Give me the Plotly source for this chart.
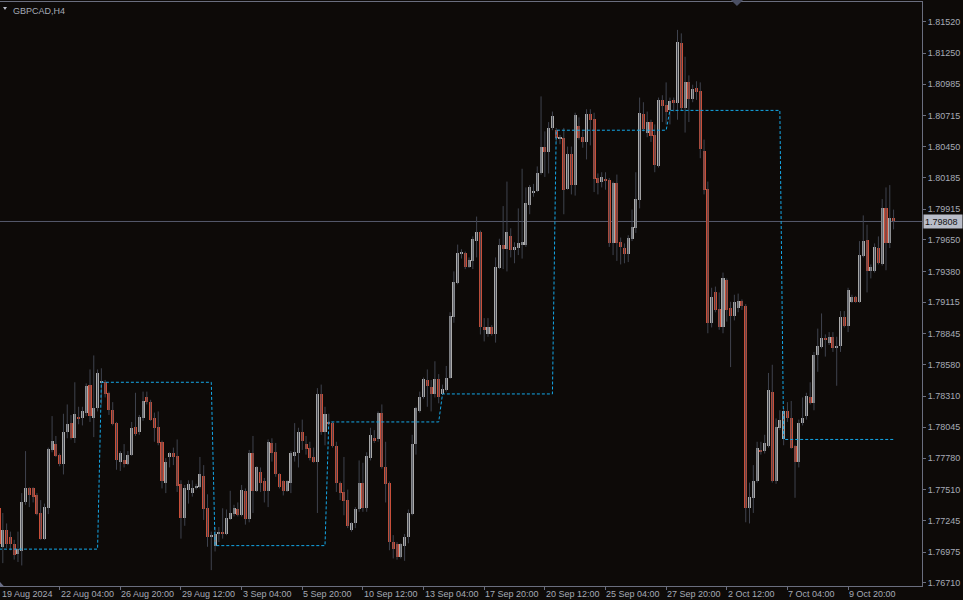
import plotly.graph_objects as go

# ---------------- data ----------------
symbol_title = "GBPCAD,H4"
bar_index = list(range(-1, 236))

open_ = [1.7735,1.7702,1.7716,1.7710,1.7704,1.7696,1.7698,1.7740,1.7752,1.7752,
1.7746,1.7731,1.7709,1.7735,1.7785,1.7790,1.7781,1.7773,1.7800,1.7808,
1.7795,1.7813,1.7812,1.7817,1.7841,1.7812,1.7821,1.7843,1.7843,1.7834,
1.7819,1.7808,1.7775,1.7776,1.7773,1.7781,1.7805,1.7800,1.7812,1.7830,
1.7826,1.7812,1.7805,1.7792,1.7757,1.7779,1.7782,1.7780,1.7756,1.7727,
1.7751,1.7748,1.7752,1.7753,1.7763,1.7735,1.7710,1.7703,1.7713,1.7714,
1.7713,1.7726,1.7730,1.7734,1.7729,1.7750,1.7726,1.7782,1.7750,1.7766,
1.7758,1.7750,1.7791,1.7783,1.7764,1.7758,1.7750,1.7757,1.7780,1.7782,
1.7800,1.7790,1.7787,1.7779,1.7775,1.7833,1.7800,1.7809,1.7808,1.7788,
1.7757,1.7749,1.7742,1.7716,1.7722,1.7734,1.7757,1.7735,1.7778,1.7795,
1.7794,1.7817,1.7770,1.7757,1.7706,1.7704,1.7693,1.7703,1.7710,1.7730,
1.7790,1.7818,1.7830,1.7845,1.7839,1.7833,1.7846,1.7833,1.7836,1.7847,
1.7899,1.7928,1.7953,1.7954,1.7942,1.7947,1.7964,1.7972,1.7890,1.7884,
1.7890,1.7884,1.7941,1.7961,1.7957,1.7968,1.7956,1.7958,1.7961,1.7961,
1.7995,1.8006,1.8007,1.8022,1.8045,1.8040,1.8061,1.8059,1.8052,1.8052,
1.8009,1.8039,1.8012,1.8063,1.8053,1.8049,1.8073,1.8069,1.8018,1.8015,
1.8017,1.8016,1.7962,1.8014,1.7963,1.7958,1.7953,1.7966,1.7975,1.7999,
1.8073,1.8057,1.8066,1.8055,1.8028,1.8085,1.8081,1.8076,1.8085,1.8082,
1.8134,1.8078,1.8100,1.8086,1.8095,1.8093,1.8041,1.8009,1.7894,1.7920,
1.7906,1.7890,1.7931,1.7907,1.7900,1.7907,1.7913,1.7908,1.7735,1.7744,
1.7758,1.7785,1.7784,1.7788,1.7835,1.7758,1.7804,1.7794,1.7818,1.7812,
1.7788,1.7775,1.7808,1.7814,1.7830,1.7825,1.7866,1.7873,1.7881,1.7877,
1.7882,1.7872,1.7874,1.7899,1.7891,1.7912,1.7916,1.7912,1.7951,1.7965,
1.7938,1.7938,1.7958,1.7944,1.7992,1.7962,1.7984]

high_ = [1.7738,1.7731,1.7722,1.7715,1.7708,1.7715,1.7748,1.7784,1.7753,1.7753,
1.7748,1.7742,1.7739,1.7787,1.7814,1.7797,1.7782,1.7816,1.7824,1.7815,
1.7843,1.7822,1.7822,1.7842,1.7854,1.7866,1.7854,1.7855,1.7845,1.7835,
1.7826,1.7809,1.7784,1.7790,1.7784,1.7809,1.7834,1.7815,1.7835,1.7835,
1.7828,1.7817,1.7818,1.7793,1.7778,1.7783,1.7787,1.7794,1.7759,1.7755,
1.7759,1.7759,1.7756,1.7779,1.7772,1.7747,1.7715,1.7719,1.7719,1.7735,
1.7734,1.7750,1.7738,1.7740,1.7755,1.7752,1.7785,1.7797,1.7771,1.7770,
1.7761,1.7794,1.7795,1.7791,1.7765,1.7759,1.7759,1.7784,1.7808,1.7804,
1.7811,1.7797,1.7792,1.7787,1.7838,1.7841,1.7822,1.7816,1.7809,1.7792,
1.7758,1.7779,1.7751,1.7723,1.7736,1.7776,1.7774,1.7783,1.7804,1.7802,
1.7818,1.7824,1.7792,1.7758,1.7712,1.7706,1.7705,1.7713,1.7734,1.7798,
1.7822,1.7835,1.7847,1.7854,1.7845,1.7861,1.7850,1.7841,1.7857,1.7903,
1.7938,1.7961,1.7957,1.7955,1.7950,1.7968,1.7985,1.7973,1.7898,1.7898,
1.7892,1.7950,1.7966,1.7994,1.8015,1.7975,1.7963,1.7992,1.8026,1.8010,
1.8012,1.8013,1.8028,1.8088,1.8058,1.8066,1.8075,1.8061,1.8055,1.8061,
1.8045,1.8045,1.8074,1.8070,1.8058,1.8077,1.8077,1.8074,1.8022,1.8023,
1.8023,1.8018,1.8015,1.8021,1.7967,1.7962,1.7969,1.7991,1.8023,1.8087,
1.8083,1.8075,1.8068,1.8064,1.8087,1.8089,1.8100,1.8087,1.8087,1.8145,
1.8142,1.8122,1.8106,1.8098,1.8101,1.8100,1.8051,1.8015,1.7924,1.7925,
1.7920,1.7937,1.7932,1.7912,1.7918,1.7919,1.7914,1.7910,1.7757,1.7772,
1.7792,1.7792,1.7798,1.7851,1.7858,1.7812,1.7819,1.7821,1.7826,1.7827,
1.7789,1.7811,1.7830,1.7834,1.7843,1.7869,1.7889,1.7902,1.7884,1.7886,
1.7886,1.7882,1.7904,1.7904,1.7924,1.7918,1.7917,1.7964,1.7986,1.7978,
1.7944,1.7962,1.7968,1.8000,1.8010,1.8012,1.7991]

low_ = [1.7701,1.7688,1.7701,1.7699,1.7691,1.7689,1.7686,1.7738,1.7736,1.7740,
1.7729,1.7708,1.7708,1.7730,1.7783,1.7779,1.7771,1.7764,1.7795,1.7794,
1.7791,1.7807,1.7806,1.7814,1.7809,1.7796,1.7818,1.7824,1.7830,1.7815,
1.7806,1.7768,1.7767,1.7770,1.7772,1.7780,1.7797,1.7798,1.7810,1.7824,
1.7810,1.7792,1.7789,1.7752,1.7748,1.7770,1.7772,1.7749,1.7709,1.7720,
1.7739,1.7745,1.7751,1.7752,1.7725,1.7702,1.7682,1.7698,1.7706,1.7709,
1.7712,1.7725,1.7728,1.7728,1.7728,1.7721,1.7723,1.7731,1.7749,1.7749,
1.7740,1.7736,1.7775,1.7762,1.7752,1.7746,1.7749,1.7748,1.7775,1.7770,
1.7785,1.7781,1.7776,1.7774,1.7731,1.7798,1.7789,1.7806,1.7787,1.7749,
1.7742,1.7729,1.7718,1.7715,1.7718,1.7732,1.7732,1.7732,1.7776,1.7791,
1.7792,1.7769,1.7740,1.7699,1.7692,1.7691,1.7692,1.7690,1.7705,1.7729,
1.7781,1.7817,1.7829,1.7822,1.7818,1.7830,1.7825,1.7832,1.7835,1.7846,
1.7894,1.7927,1.7949,1.7940,1.7941,1.7940,1.7950,1.7884,1.7878,1.7882,
1.7883,1.7877,1.7940,1.7940,1.7938,1.7950,1.7945,1.7952,1.7949,1.7959,
1.7987,1.8002,1.8006,1.8021,1.8019,1.8022,1.8059,1.8049,1.8047,1.7987,
1.8008,1.8004,1.8003,1.8051,1.8044,1.8034,1.8046,1.8006,1.8004,1.8010,
1.8008,1.7959,1.7952,1.7947,1.7944,1.7945,1.7946,1.7964,1.7971,1.7992,
1.8058,1.8053,1.8049,1.8023,1.8027,1.8066,1.8064,1.8064,1.8075,1.8068,
1.8076,1.8057,1.8066,1.8083,1.8085,1.8035,1.8004,1.7885,1.7890,1.7903,
1.7888,1.7885,1.7895,1.7856,1.7896,1.7903,1.7905,1.7723,1.7722,1.7731,
1.7757,1.7781,1.7782,1.7787,1.7757,1.7756,1.7802,1.7789,1.7809,1.7786,
1.7744,1.7770,1.7806,1.7811,1.7824,1.7819,1.7852,1.7872,1.7865,1.7875,
1.7869,1.7840,1.7869,1.7890,1.7886,1.7911,1.7911,1.7911,1.7950,1.7920,
1.7932,1.7937,1.7944,1.7943,1.7939,1.7958,1.7974]

close_ = [1.7704,1.7716,1.7704,1.7704,1.7695,1.7700,1.7740,1.7752,1.7746,1.7745,
1.7730,1.7709,1.7736,1.7786,1.7793,1.7780,1.7773,1.7800,1.7807,1.7795,
1.7816,1.7812,1.7818,1.7840,1.7814,1.7821,1.7851,1.7844,1.7833,1.7819,
1.7807,1.7776,1.7782,1.7773,1.7781,1.7804,1.7799,1.7813,1.7827,1.7826,
1.7811,1.7804,1.7791,1.7758,1.7775,1.7782,1.7779,1.7754,1.7727,1.7752,
1.7756,1.7752,1.7754,1.7764,1.7734,1.7710,1.7712,1.7713,1.7714,1.7713,
1.7727,1.7731,1.7735,1.7729,1.7751,1.7726,1.7782,1.7750,1.7770,1.7757,
1.7750,1.7792,1.7782,1.7764,1.7753,1.7750,1.7758,1.7782,1.7783,1.7800,
1.7793,1.7786,1.7778,1.7775,1.7833,1.7800,1.7816,1.7808,1.7788,1.7757,
1.7748,1.7741,1.7720,1.7722,1.7734,1.7757,1.7735,1.7780,1.7798,1.7793,
1.7817,1.7770,1.7756,1.7706,1.7700,1.7693,1.7704,1.7710,1.7731,1.7790,
1.7821,1.7830,1.7846,1.7840,1.7833,1.7846,1.7830,1.7837,1.7847,1.7900,
1.7929,1.7954,1.7955,1.7942,1.7948,1.7966,1.7972,1.7890,1.7888,1.7890,
1.7884,1.7942,1.7961,1.7957,1.7972,1.7956,1.7959,1.7962,1.7963,1.7997,
1.8010,1.8007,1.8022,1.8045,1.8040,1.8061,1.8071,1.8052,1.8053,1.8008,
1.8039,1.8012,1.8072,1.8052,1.8049,1.8073,1.8068,1.8017,1.8014,1.8019,
1.8016,1.7962,1.8014,1.7962,1.7959,1.7953,1.7967,1.7976,1.8000,1.8074,
1.8060,1.8066,1.8054,1.8029,1.8085,1.8080,1.8075,1.8084,1.8082,1.8135,
1.8078,1.8100,1.8086,1.8094,1.8092,1.8043,1.8008,1.7894,1.7916,1.7905,
1.7890,1.7932,1.7905,1.7900,1.7912,1.7913,1.7908,1.7735,1.7745,1.7758,
1.7787,1.7783,1.7791,1.7836,1.7758,1.7805,1.7811,1.7818,1.7812,1.7787,
1.7775,1.7808,1.7812,1.7831,1.7825,1.7866,1.7874,1.7881,1.7880,1.7882,
1.7872,1.7874,1.7899,1.7891,1.7922,1.7916,1.7912,1.7952,1.7964,1.7938,
1.7942,1.7959,1.7945,1.7992,1.7962,1.7984,1.79808]

# weekly open (dotted blue step line)
week_start_bar = [-1, 26, 56, 86, 116, 146, 176, 206]
week_open = [1.7700, 1.7843, 1.7703, 1.7809, 1.7833, 1.8059, 1.8076, 1.7794]

# time axis labels
first_bar_label = "19 Aug 2024"
time_tick_bar = [15, 31, 47, 63, 79, 95, 111, 127, 143, 159, 175, 191, 207, 223]
time_tick_text = ["22 Aug 04:00", "26 Aug 20:00", "29 Aug 12:00", "3 Sep 04:00",
                  "5 Sep 20:00", "10 Sep 12:00", "13 Sep 04:00", "17 Sep 20:00",
                  "20 Sep 12:00", "25 Sep 04:00", "27 Sep 20:00", "2 Oct 12:00",
                  "7 Oct 04:00", "9 Oct 20:00"]

price_ticks = [1.76710, 1.76975, 1.77245, 1.77510, 1.77780, 1.78045, 1.78310,
               1.78580, 1.78845, 1.79115, 1.79380, 1.79650, 1.79915, 1.80185,
               1.80450, 1.80715, 1.80985, 1.81250, 1.81520]
last_price = 1.79808

# ---------------- styling ----------------
BG = "#0d0a08"
AXIS = "#6a6e7e"
TXT = "#a6aab6"
BULL = "#ababab"
BEAR = "#c94f3a"
WICK = "#3f434e"
BLUE = "#14a8e8"
FONT = "Liberation Sans"

# ---------------- traces ----------------
wx, wy = [], []
for b, h, l in zip(bar_index, high_, low_):
    wx += [b, b, None]
    wy += [l, h, None]

body_base = [min(o, c) for o, c in zip(open_, close_)]
body_h = [max(abs(c - o), 0.00009) for o, c in zip(open_, close_)]
body_col = [BULL if c >= o else BEAR for o, c in zip(open_, close_)]

line_x, line_y = [], []
ends = week_start_bar[1:] + [bar_index[-1] + 1]
for s, e, v in zip(week_start_bar, ends, week_open):
    for b in range(s, e):
        line_x.append(b)
        line_y.append(v)

fig = go.Figure()
fig.add_trace(go.Scatter(x=wx, y=wy, mode="lines", line=dict(color=WICK, width=1),
                         hoverinfo="skip", showlegend=False))
fig.add_trace(go.Bar(x=bar_index, y=body_h, base=body_base, width=0.8,
                     marker=dict(color=body_col, line=dict(width=0)),
                     hoverinfo="skip", showlegend=False))
fig.add_trace(go.Scatter(x=line_x, y=line_y, mode="lines",
                         line=dict(color=BLUE, width=1, dash="3px,2px"),
                         hoverinfo="skip", showlegend=False))

# current price line
fig.add_shape(type="line", xref="paper", x0=0, x1=1, yref="y", y0=last_price, y1=last_price,
              line=dict(color="#565a6c", width=1), layer="below")

# decorative triangles (title menu, chart-shift marker, corner)
fig.add_shape(type="path", xref="paper", yref="paper",
              path="M 0.0033,0.9914 L 0.0076,0.9914 L 0.0054,0.9863 Z",
              fillcolor="#b8bcc8", line=dict(width=0))
fig.add_shape(type="path", xref="paper", yref="paper",
              path="M 0.7928,1.0034 L 0.8059,1.0034 L 0.7993,0.9932 Z",
              fillcolor="#4a4f63", line=dict(width=0))
fig.add_shape(type="path", xref="paper", yref="paper",
              path="M 0,0.0068 L 0,-0.001 L 0.0045,-0.001 Z",
              fillcolor="#6a6e88", line=dict(width=0))

annotations = []
annotations.append(dict(x=0, xref="paper", xshift=11, y=1, yref="paper", yanchor="top", yshift=-2,
                        xanchor="left", text=symbol_title, showarrow=False,
                        font=dict(family=FONT, size=9, color=TXT)))
annotations.append(dict(x=0, xref="paper", y=0, yref="paper", yanchor="top", yshift=-1,
                        xanchor="left", text=first_bar_label, showarrow=False,
                        font=dict(family=FONT, size=9, color=TXT)))
for b, t in zip(time_tick_bar, time_tick_text):
    annotations.append(dict(x=b, xref="x", y=0, yref="paper", yanchor="top", yshift=-1,
                            xanchor="left", xshift=-1, text=t, showarrow=False,
                            font=dict(family=FONT, size=9, color=TXT)))
annotations.append(dict(x=1, xref="paper", xanchor="left", xshift=1, y=last_price, yref="y",
                        text=f"{last_price:.5f}", showarrow=False, bgcolor="#b9bdc9",
                        borderpad=1, width=36, height=11, align="left",
                        font=dict(family=FONT, size=9, color="#111111")))

fig.update_layout(
    width=963, height=600,
    margin=dict(l=0, r=41, t=2, b=14, pad=0),
    paper_bgcolor=BG, plot_bgcolor=BG,
    barmode="overlay", bargap=0,
    showlegend=False,
    annotations=annotations,
    xaxis=dict(range=[-0.74, 242.5], showgrid=False, zeroline=False,
               showline=True, linecolor=AXIS, linewidth=1, mirror=True,
               ticks="outside", ticklen=3, tickcolor=AXIS, tickvals=time_tick_bar,
               showticklabels=False, fixedrange=True),
    yaxis=dict(side="right", range=[1.76684, 1.81689], showgrid=False, zeroline=False,
               showline=True, linecolor=AXIS, linewidth=1,
               ticks="outside", ticklen=3, tickcolor=AXIS,
               tickvals=price_ticks, tickformat=".5f",
               tickfont=dict(family=FONT, size=9, color=TXT), fixedrange=True),
)

fig.write_html(
    "out.html",
    config={"displayModeBar": False},
    post_script="document.body.style.margin='0';document.body.style.overflow='hidden';"
                "document.body.style.background='" + BG + "';",
)
